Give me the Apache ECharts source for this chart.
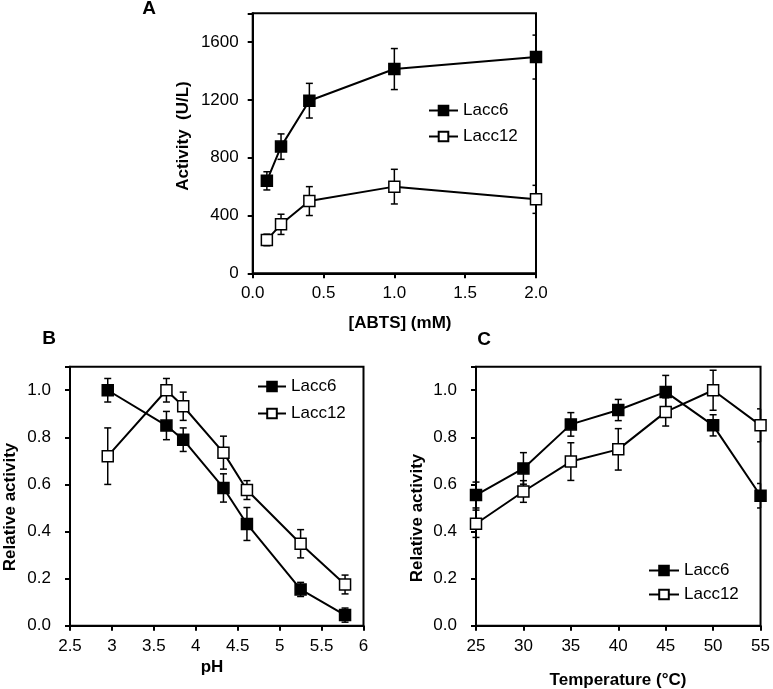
<!DOCTYPE html>
<html><head><meta charset="utf-8">
<script src="https://cdn.jsdelivr.net/npm/echarts@6.0.0/dist/echarts.min.js"></script>
<style>html,body{margin:0;padding:0;background:#fff}#c{width:773px;height:689px}</style>
</head><body><div id="c"></div>
<script>
// Panel A: activity vs [ABTS]
const abtsX = [0.1, 0.2, 0.4, 1.0, 2.0];
const abtsLacc6 = [640, 877, 1195, 1414, 1497];
const abtsLacc6Err = [63, 88, 120, 142, 152];
const abtsLacc12 = [231, 339, 500, 600, 512];
const abtsLacc12Err = [40, 70, 100, 120, 97];
// Panel B: relative activity vs pH
const pHX = [2.95, 3.65, 3.85, 4.33, 4.61, 5.25, 5.78];
const pHLacc6 = [1.0, 0.85, 0.79, 0.585, 0.432, 0.154, 0.045];
const pHLacc6Err = [0.05, 0.06, 0.05, 0.06, 0.07, 0.03, 0.03];
const pHLacc12 = [0.72, 1.0, 0.932, 0.735, 0.576, 0.348, 0.175];
const pHLacc12Err = [0.12, 0.05, 0.06, 0.07, 0.04, 0.06, 0.04];
// Panel C: relative activity vs temperature
const tempX = [25, 30, 35, 40, 45, 50, 55];
const tempLacc6 = [0.555, 0.668, 0.855, 0.916, 0.993, 0.851, 0.552];
const tempLacc6Err = [0.055, 0.067, 0.05, 0.045, 0.07, 0.045, 0.052];
const tempLacc12 = [0.433, 0.57, 0.697, 0.749, 0.908, 1.0, 0.851];
const tempLacc12Err = [0.058, 0.046, 0.08, 0.088, 0.06, 0.085, 0.07];

const seriesNames = ['Lacc6', 'Lacc12'];
const FONT = 'Liberation Sans, Arial, sans-serif';

const chart = echarts.init(document.getElementById('c'), null, {renderer: 'canvas'});

function xAx(grid, min, max, interval, fmt) {
  return {type: 'value', gridIndex: grid, min, max, interval,
    axisLine: {show: true, onZero: false, lineStyle: {color: '#000', width: 2}},
    axisTick: {show: true, inside: false, length: 5, lineStyle: {color: '#000', width: 2}},
    axisLabel: {color: '#000', fontSize: 17, fontFamily: FONT, margin: 12, formatter: fmt},
    splitLine: {show: false}};
}
function yAx(grid, min, max, interval, fmt, margin) {
  return {type: 'value', gridIndex: grid, min, max, interval,
    axisLine: {show: true, onZero: false, lineStyle: {color: '#000', width: 2}},
    axisTick: {show: true, inside: false, length: 5, lineStyle: {color: '#000', width: 2}},
    axisLabel: {color: '#000', fontSize: 17, fontFamily: FONT, margin: margin, formatter: fmt},
    splitLine: {show: false}};
}

function errRender(params, api) {
  const x = api.value(0), lo = api.value(1), hi = api.value(2);
  const p1 = api.coord([x, hi]), p2 = api.coord([x, lo]);
  const w = 3.5;
  const right = params.coordSys.x + params.coordSys.width;
  const xr = Math.min(p1[0] + w, right);
  const style = {stroke: '#000', lineWidth: 1.5};
  return {type: 'group', children: [
    {type: 'line', shape: {x1: p1[0], y1: p1[1], x2: p2[0], y2: p2[1]}, style},
    {type: 'line', shape: {x1: p1[0] - w, y1: p1[1], x2: xr, y2: p1[1]}, style},
    {type: 'line', shape: {x1: p2[0] - w, y1: p2[1], x2: xr, y2: p2[1]}, style}
  ]};
}
function errSeries(idx, xs, ys, es) {
  return {type: 'custom', xAxisIndex: idx, yAxisIndex: idx, renderItem: errRender, silent: true, z: 1,
    data: xs.map((x, i) => [x, ys[i] - es[i], ys[i] + es[i]])};
}
function lineSeries(idx, name, xs, ys, filled) {
  return {type: 'line', name, xAxisIndex: idx, yAxisIndex: idx, z: 3,
    symbol: 'rect', symbolSize: 11,
    lineStyle: {color: '#000', width: 2},
    itemStyle: {color: filled ? '#000' : '#fff', borderColor: '#000', borderWidth: 1.5},
    emphasis: {disabled: true},
    data: xs.map((x, i) => [x, ys[i]])};
}
const legendBase = {orient: 'vertical', padding: 0, itemWidth: 30, itemHeight: 12, itemGap: 9,
  textStyle: {fontSize: 17, color: '#000', fontFamily: FONT}, data: seriesNames, selectedMode: false};

function txt(x, y, text, size, bold, rot) {
  return {type: 'text', x, y, rotation: rot || 0,
    style: {text, fontSize: size, fontWeight: bold ? 'bold' : 'normal', fontFamily: FONT, fill: '#000',
      align: 'center', verticalAlign: 'middle'}};
}

const option = {
  animation: false,
  backgroundColor: '#fff',
  grid: [
    {left: 252.7, top: 13.3, width: 283.3, height: 260, show: true, borderColor: '#000', borderWidth: 2, containLabel: false},
    {left: 70, top: 366.7, width: 293.5, height: 259, show: true, borderColor: '#000', borderWidth: 2, containLabel: false},
    {left: 476, top: 366.7, width: 287.3, height: 259, show: true, borderColor: '#000', borderWidth: 2, containLabel: false}
  ],
  xAxis: [
    xAx(0, 0, 2, 0.5, v => v.toFixed(1)),
    xAx(1, 2.5, 6, 0.5, v => String(v)),
    xAx(2, 25, 55, 5, v => String(v))
  ],
  yAxis: [
    yAx(0, 0, 1800, 400, v => v > 1700 ? '' : String(v), 14),
    yAx(1, 0, 1.1, 0.2, v => v > 1.05 ? '' : v.toFixed(1), 19),
    yAx(2, 0, 1.1, 0.2, v => v > 1.05 ? '' : v.toFixed(1), 19)
  ],
  legend: [
    Object.assign({}, legendBase, {left: 428, top: 102, itemWidth: 29}),
    Object.assign({}, legendBase, {left: 257, top: 378, itemWidth: 28, itemGap: 10}),
    Object.assign({}, legendBase, {left: 648, top: 562, itemGap: 7})
  ],
  series: [
    errSeries(0, abtsX, abtsLacc6, abtsLacc6Err),
    errSeries(0, abtsX, abtsLacc12, abtsLacc12Err),
    lineSeries(0, 'Lacc6', abtsX, abtsLacc6, true),
    lineSeries(0, 'Lacc12', abtsX, abtsLacc12, false),
    errSeries(1, pHX, pHLacc6, pHLacc6Err),
    errSeries(1, pHX, pHLacc12, pHLacc12Err),
    lineSeries(1, 'Lacc6', pHX, pHLacc6, true),
    lineSeries(1, 'Lacc12', pHX, pHLacc12, false),
    errSeries(2, tempX, tempLacc6, tempLacc6Err),
    errSeries(2, tempX, tempLacc12, tempLacc12Err),
    lineSeries(2, 'Lacc6', tempX, tempLacc6, true),
    lineSeries(2, 'Lacc12', tempX, tempLacc12, false)
  ],
  graphic: [
    txt(183, 136, 'Activity  (U/L)', 17, true, Math.PI / 2),
    txt(400, 323, '[ABTS] (mM)', 17, true),
    txt(10, 507, 'Relative activity', 17, true, Math.PI / 2),
    txt(212, 667, 'pH', 17, true),
    txt(417, 518, 'Relative activity', 17, true, Math.PI / 2),
    txt(618, 680, 'Temperature (°C)', 17, true),
    txt(149, 9, 'A', 19, true),
    txt(49, 339, 'B', 19, true),
    txt(484, 340, 'C', 19, true)
  ]
};
chart.setOption(option);
</script>
</body></html>
